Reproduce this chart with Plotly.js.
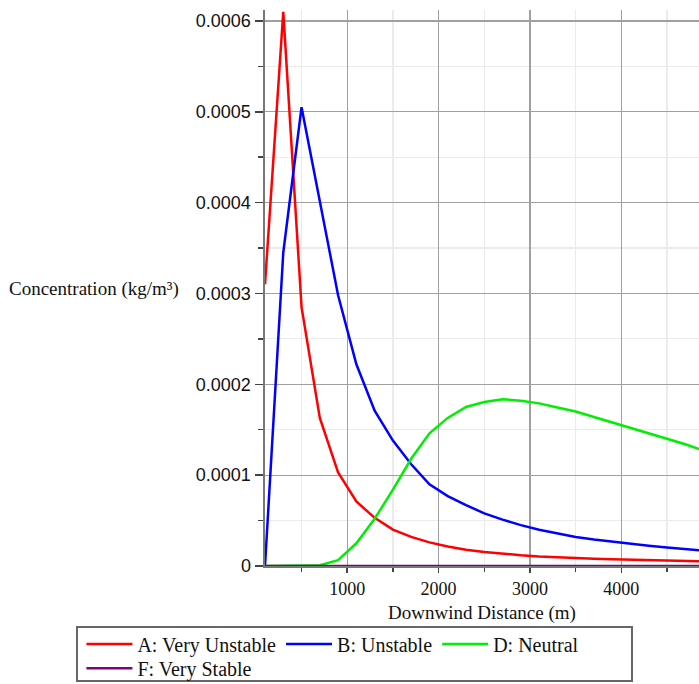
<!DOCTYPE html>
<html>
<head>
<meta charset="utf-8">
<script src="https://cdn.plot.ly/plotly-3.0.1.min.js"></script>
<style>
html,body{margin:0;padding:0;background:#fff;}
#chart{width:699px;height:684px;}
</style>
</head>
<body>
<div id="chart"></div>
<script>
// Downwind distance (m)
const distance = [100,300,500,700,900,1100,1300,1500,1700,1900,2100,2300,2500,2700,2900,3100,3300,3500,3700,3900,4100,4300,4500,4700,4900];

// Concentration (kg/m^3) by stability class
const classA = [0.00031,0.00061,0.000285,0.000163,0.000103,0.000071,0.000053,0.000040,0.000032,0.000026,0.0000215,0.000018,0.0000155,0.0000135,0.0000118,0.0000105,0.0000095,0.0000087,0.000008,0.0000074,0.0000068,0.0000063,0.0000059,0.0000055,0.0000052];
const classB = [0,0.000345,0.000505,0.000400,0.000298,0.000222,0.000171,0.000138,0.000112,0.000090,0.000077,0.000067,0.000058,0.000051,0.000045,0.000040,0.000036,0.000032,0.0000292,0.0000266,0.0000243,0.0000222,0.0000203,0.0000186,0.000017];
const classD = [0,0,0,0.0000008,0.0000065,0.000025,0.000052,0.000084,0.000118,0.000146,0.000163,0.000175,0.0001805,0.0001835,0.000182,0.000179,0.0001745,0.000170,0.000164,0.000158,0.000152,0.000146,0.000140,0.000134,0.000127];
const classF = [0,0,0,0,0,0,0,0,0,0,0,0,0,0,0,0,0,0,0,0,0,0,0,0,0];

const seriesNames = ["A: Very Unstable","B: Unstable","D: Neutral","F: Very Stable"];
const seriesColors = ["#ff0000","#0000ff","#00ee00","#800080"];
const seriesValues = [classA, classB, classD, classF];

const serif = "Liberation Serif, Times New Roman, serif";
const sans = "Liberation Sans, Arial, sans-serif";

const traces = seriesValues.map((vals, i) => ({
  type: "scatter",
  mode: "lines",
  x: distance,
  y: vals,
  name: seriesNames[i],
  line: {color: seriesColors[i], width: 2.5},
  legend: i < 3 ? "legend" : "legend2",
  cliponaxis: true
}));

const legendFont = {family: serif, size: 20, color: "#111"};

const layout = {
  width: 699,
  height: 684,
  margin: {l: 265, r: 0, t: 10, b: 118, autoexpand: false},
  paper_bgcolor: "#fff",
  plot_bgcolor: "#fff",
  showlegend: true,
  xaxis: {
    range: [100, 4850],
    tick0: 0,
    dtick: 1000,
    ticks: "outside",
    ticklen: 5,
    tickwidth: 1.5,
    tickcolor: "#444",
    showgrid: true,
    gridcolor: "#a0a0a0",
    gridwidth: 1.2,
    zeroline: false,
    showline: true,
    linecolor: "#777",
    linewidth: 2,
    automargin: false,
    tickfont: {family: serif, size: 18, color: "#111"},
    title: {text: "Downwind Distance (m)", font: {family: serif, size: 19, color: "#111"}, standoff: 8},
    minor: {dtick: 500, showgrid: true, gridcolor: "#ebebeb", gridwidth: 1.2, ticks: "outside", ticklen: 4, tickcolor: "#444"}
  },
  yaxis: {
    range: [0, 0.000612],
    tick0: 0,
    dtick: 0.0001,
    exponentformat: "none",
    ticks: "outside",
    ticklen: 8,
    tickwidth: 1.5,
    tickcolor: "#444",
    showgrid: true,
    gridcolor: "#a0a0a0",
    gridwidth: 1.2,
    zeroline: false,
    showline: true,
    linecolor: "#777",
    linewidth: 2.5,
    automargin: false,
    tickfont: {family: sans, size: 18, color: "#111"},
    minor: {dtick: 0.00005, showgrid: true, gridcolor: "#ebebeb", gridwidth: 1.2, ticks: "outside", ticklen: 5, tickcolor: "#444"}
  },
  legend: {
    orientation: "h",
    x: -0.423, xanchor: "left",
    y: -0.105, yanchor: "top",
    font: legendFont,
    bgcolor: "rgba(0,0,0,0)",
    borderwidth: 0,
    itemwidth: 46,
    tracegroupgap: 0,
    itemclick: false
  },
  legend2: {
    orientation: "h",
    x: -0.423, xanchor: "left",
    y: -0.149, yanchor: "top",
    font: legendFont,
    bgcolor: "rgba(0,0,0,0)",
    borderwidth: 0,
    itemwidth: 46,
    itemclick: false
  },
  shapes: [{
    type: "rect",
    xref: "paper", yref: "paper",
    x0: -0.4332, x1: 0.8456,
    y0: -0.1097, y1: -0.2068,
    line: {color: "#666", width: 2},
    fillcolor: "rgba(0,0,0,0)"
  }],
  annotations: [{
    text: "Concentration (kg/m³)",
    xref: "paper", yref: "paper",
    x: -0.594, xanchor: "left",
    y: 0.498, yanchor: "middle",
    showarrow: false,
    font: {family: serif, size: 19, color: "#111"}
  }]
};

Plotly.newPlot("chart", traces, layout, {displayModeBar: false, staticPlot: true});
</script>
</body>
</html>
